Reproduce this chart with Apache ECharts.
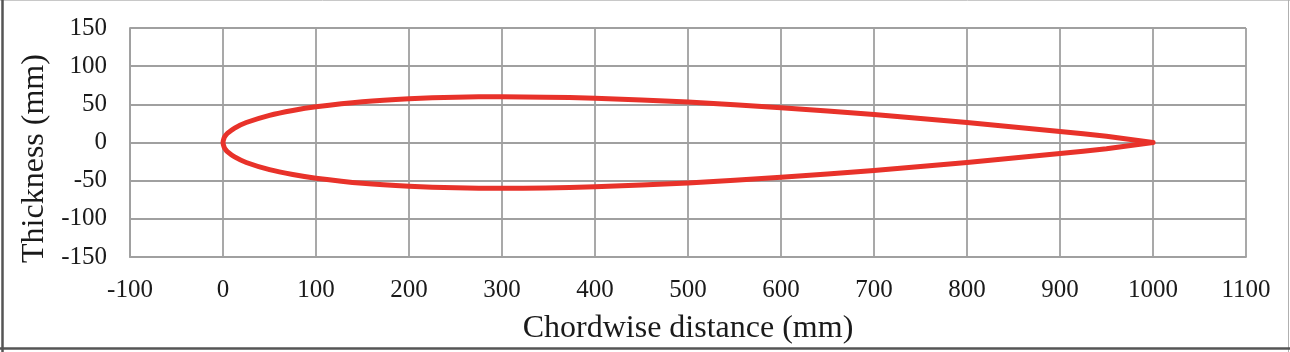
<!DOCTYPE html>
<html>
<head>
<meta charset="utf-8">
<script src="https://cdn.jsdelivr.net/npm/echarts@6/dist/echarts.min.js"></script>
<style>html,body{margin:0;padding:0;background:#fff}#c{width:1290px;height:352px}</style>
</head>
<body>
<div id="c"></div>
<script>
// Chordwise stations (mm)
const chordX = [0, 1.25, 2.5, 5, 12.5, 25, 50, 75, 100, 150, 200, 250, 300, 400, 500, 600, 700, 800, 900, 950, 1000];
// Upper surface thickness (mm)
const upperY = [0, 6.2, 8.7, 12.2, 18.9, 26.2, 35.6, 42.0, 46.8, 53.5, 57.4, 59.4, 60.0, 58.0, 52.9, 45.6, 36.6, 26.2, 14.5, 8.1, 0];
// Lower surface thickness (mm)
const lowerY = [0, -6.2, -8.7, -12.2, -18.9, -26.2, -35.6, -42.0, -46.8, -53.5, -57.4, -59.4, -60.0, -58.0, -52.9, -45.6, -36.6, -26.2, -14.5, -8.1, 0];
// Axis ranges / ticks
const xTicks = [-100, 0, 100, 200, 300, 400, 500, 600, 700, 800, 900, 1000, 1100];
const yTicks = [-150, -100, -50, 0, 50, 100, 150];

const profile = [];
for (let i = chordX.length - 1; i >= 0; i--) profile.push([chordX[i], upperY[i]]);
for (let i = 1; i < chordX.length; i++) profile.push([chordX[i], lowerY[i]]);

const font = '"Liberation Serif", "Times New Roman", serif';
const gridColor = '#a0a0a0';
const chart = echarts.init(document.getElementById('c'), null, {renderer: 'canvas'});
chart.setOption({
  animation: false,
  backgroundColor: '#fff',
  grid: {left: 130, right: 44, top: 28, bottom: 95, containLabel: false},
  xAxis: {
    type: 'value', min: xTicks[0], max: xTicks[xTicks.length - 1], interval: 100,
    name: 'Chordwise distance (mm)', nameLocation: 'middle', nameGap: 56,
    nameTextStyle: {fontFamily: font, fontSize: 32, color: '#1a1a1a'},
    axisLine: {show: true, onZero: false, lineStyle: {color: gridColor, width: 1.8}},
    axisTick: {show: false},
    axisLabel: {fontFamily: font, fontSize: 25, color: '#1a1a1a', margin: 21, formatter: v => String(v)},
    splitLine: {show: true, lineStyle: {color: gridColor, width: 1.8}}
  },
  yAxis: {
    type: 'value', min: yTicks[0], max: yTicks[yTicks.length - 1], interval: 50,
    name: 'Thickness (mm)', nameLocation: 'middle', nameGap: 76, nameRotate: 90,
    nameTextStyle: {fontFamily: font, fontSize: 32, color: '#1a1a1a', padding: [0, 32, 0, 0]},
    axisLine: {show: true, onZero: false, lineStyle: {color: gridColor, width: 1.8}},
    axisTick: {show: false},
    axisLabel: {fontFamily: font, fontSize: 25, color: '#1a1a1a', margin: 23, formatter: v => String(v)},
    splitLine: {show: true, lineStyle: {color: gridColor, width: 1.8}}
  },
  series: [{
    type: 'line', data: profile, showSymbol: false, symbol: 'none', smooth: 0.2,
    lineStyle: {color: '#e8322a', width: 5, join: 'round', cap: 'round'}
  }],
  graphic: [
    {type: 'line', shape: {x1: 0, y1: 0.5, x2: 1290, y2: 0.5}, style: {stroke: '#c8c8c8', lineWidth: 1}},
    {type: 'line', shape: {x1: 1288.5, y1: 0, x2: 1288.5, y2: 352}, style: {stroke: '#b0b0b0', lineWidth: 1}},
    {type: 'line', shape: {x1: 2.5, y1: 0, x2: 2.5, y2: 352}, style: {stroke: '#555', lineWidth: 2.5}},
    {type: 'line', shape: {x1: 0, y1: 348.5, x2: 1290, y2: 348.5}, style: {stroke: '#555', lineWidth: 2.5}}
  ]
});
</script>
</body>
</html>
